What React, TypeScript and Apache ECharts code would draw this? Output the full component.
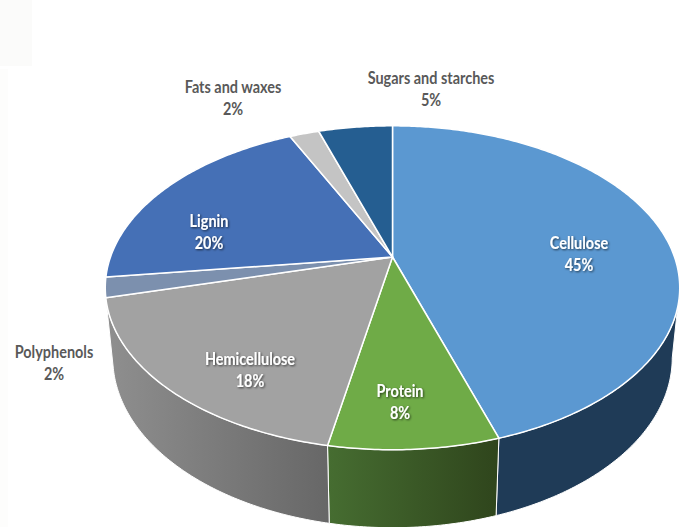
import React, { useEffect, useRef } from "react";
import * as echarts from "echarts";

const categories = ["Cellulose", "Protein", "Hemicellulose", "Polyphenols", "Lignin", "Fats and waxes", "Sugars and starches"];
const values = [45, 8, 18, 2, 20, 2, 5];
const percentLabels = ["45%", "8%", "18%", "2%", "20%", "2%", "5%"];
const topColors = ["#5b98d1", "#6fab47", "#a2a2a2", "#7c90ae", "#4570b6", "#c4c4c4", "#255e91"];
const wallStops = [
  ["#1f3b57", "#1f3b57"],
  ["#466d31", "#2f451c"],
  ["#8f8f8f", "#676767"],
];
const labelAnchors = [
  [579, 253], [400, 401], [250, 369], [54, 362], [209, 231], [233, 97], [431, 88],
];
const insideLabel = [true, true, true, false, true, false, false];

// Tilted-disc projection
const CX = 392.5, EY = 288, RY = 162, A = 282, K = 0.19, APEX = 31;
const BOTTOM_CY = 358, BOTTOM_RX = 280, BOTTOM_RY = 170, RX = 287.5;
const WALL_FROM = 101, WALL_TO = 259;

const total = values.reduce((a, b) => a + b, 0);
const startDeg = (i: number) => (values.slice(0, i).reduce((a, b) => a + b, 0) / total) * 360;
const endDeg = (i: number) => startDeg(i + 1);

function project(deg: number): number[] {
  const t = (deg * Math.PI) / 180;
  const u = Math.sin(t), v = -Math.cos(t);
  const d = 1 - K * v;
  return [CX + (A * u) / d, EY + (RY * v - APEX) / d];
}
function lower(p: number[]): number[] {
  return [CX + ((p[0] - CX) * BOTTOM_RX) / RX, BOTTOM_CY + ((p[1] - EY) * BOTTOM_RY) / RY];
}
function arc(a: number, b: number): number[][] {
  const n = Math.max(2, Math.ceil(Math.abs(b - a) * 1.5));
  const out: number[][] = [];
  for (let i = 0; i <= n; i++) out.push(project(a + ((b - a) * i) / n));
  return out;
}

const fontFamily = "Lato, 'Liberation Sans', sans-serif";

export default function App() {
  const ref = useRef<HTMLDivElement>(null);
  useEffect(() => {
    const chart = echarts.init(ref.current!, null, { renderer: "svg" });
    const data = values.map((v, i) => ({ name: categories[i], value: v }));
    chart.setOption({
      animation: false,
      backgroundColor: "#ffffff",
      graphic: [
        { type: "rect", silent: true, z: 0, shape: { x: 0, y: 0, width: 32, height: 66 }, style: { fill: "#fbfbfa" } },
        { type: "rect", silent: true, z: 0, shape: { x: 0, y: 69, width: 8, height: 458 }, style: { fill: "#fdfdfc" } },
      ],
      series: [
        {
          type: "custom",
          coordinateSystem: "none",
          z: 2,
          data,
          renderItem: (params: any) => {
            const i = params.dataIndex;
            const a = Math.max(startDeg(i), WALL_FROM);
            const b = Math.min(endDeg(i), WALL_TO);
            if (b <= a || !wallStops[i]) return { type: "group", children: [] };
            const top = arc(a, b);
            const points = top.concat(top.map(lower).reverse());
            return {
              type: "polygon",
              shape: { points },
              style: {
                fill: new echarts.graphic.LinearGradient(0, 0, 1, 0, [
                  { offset: 0, color: wallStops[i][0] },
                  { offset: 1, color: wallStops[i][1] },
                ]),
                stroke: "#ffffff",
                lineWidth: 1,
              },
            };
          },
        },
        {
          type: "custom",
          coordinateSystem: "none",
          z: 3,
          data,
          renderItem: (params: any) => {
            const i = params.dataIndex;
            const points = [[CX, EY - APEX]].concat(arc(startDeg(i), endDeg(i)));
            return {
              type: "polygon",
              shape: { points },
              style: { fill: topColors[i], stroke: "#ffffff", lineWidth: 1.5, lineJoin: "round" },
            };
          },
        },
        {
          type: "custom",
          coordinateSystem: "none",
          z: 4,
          silent: true,
          data,
          renderItem: (params: any) => {
            const i = params.dataIndex;
            const inside = insideLabel[i];
            return {
              type: "text",
              x: labelAnchors[i][0],
              y: labelAnchors[i][1],
              scaleX: 0.85,
              style: {
                text: categories[i] + "\n" + percentLabels[i],
                fontFamily,
                fontSize: 17,
                fontWeight: "bold",
                lineHeight: 22,
                align: "center",
                verticalAlign: "middle",
                fill: inside ? "#ffffff" : "#595959",
                textShadowColor: inside ? "rgba(0,0,0,0.65)" : "transparent",
                textShadowBlur: inside ? 2 : 0,
                textShadowOffsetX: inside ? 1 : 0,
                textShadowOffsetY: inside ? 1 : 0,
              },
            };
          },
        },
      ],
    });
    return () => chart.dispose();
  }, []);
  return <div ref={ref} style={{ position: "absolute", left: 0, top: 0, width: 681, height: 527 }} />;
}
